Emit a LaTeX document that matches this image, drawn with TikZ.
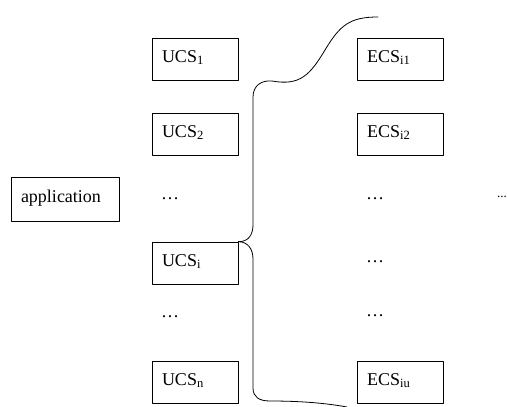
\documentclass[tikz,border=0pt]{standalone}
\usepackage{fontspec}
\setmainfont{Liberation Serif}
\begin{document}
\begin{tikzpicture}[x=1pt,y=-1pt,line cap=round,line join=round,
	box/.style={draw,line width=0.8pt,minimum width=86pt,minimum height=42pt,inner xsep=10pt,inner ysep=0pt,text width=66pt,align=left,text height=12.5pt,text depth=6pt,font=\fontsize{18}{21}\selectfont},
	dots/.style={font=\fontsize{18}{21}\selectfont}]
	\useasboundingbox (0,0) rectangle (507,407);
	\node[box,minimum width=108pt,minimum height=44pt,text width=88pt] (app) at (65,199) {application};
	% UCS column
	\node[box] (u1) at (195,59) {UCS\textsubscript{1}};
	\node[box] (u2) at (195,134) {UCS\textsubscript{2}};
	\node[dots] (u3) at (170,199) {\ldots};
	\node[box] (ui) at (195,263) {UCS\textsubscript{i}};
	\node[dots] (u5) at (170,317) {\ldots};
	\node[box] (un) at (195,382) {UCS\textsubscript{n}};
	% ECS column
	\node[box] (e1) at (400,59) {ECS\textsubscript{i1}};
	\node[box] (e2) at (400,134) {ECS\textsubscript{i2}};
	\node[dots] (e3) at (375,199) {\ldots};
	\node[dots] (e4) at (375,262) {\ldots};
	\node[dots] (e5) at (375,316) {\ldots};
	\node[box] (eu) at (400,382) {ECS\textsubscript{iu}};
	\node[font=\fontsize{13}{15}\selectfont] (far) at (502,197) {...};
	% brace
	\draw[line width=0.8pt] (ui.north east) .. controls (248,242) and (253,235) .. (253,225) -- (253,97)
		.. controls (253,86) and (261,80) .. (272,81) .. controls (300,86) and (310,75) .. (325,50)
		.. controls (340,25) and (350,17) .. (378,17);
	\draw[line width=0.8pt] (ui.north east) .. controls (248,242) and (253,249) .. (253,259) -- (253,388)
		.. controls (253,397) and (259,401) .. (270,401) .. controls (300,401) and (325,403) .. (347,407);
\end{tikzpicture}
\end{document}
